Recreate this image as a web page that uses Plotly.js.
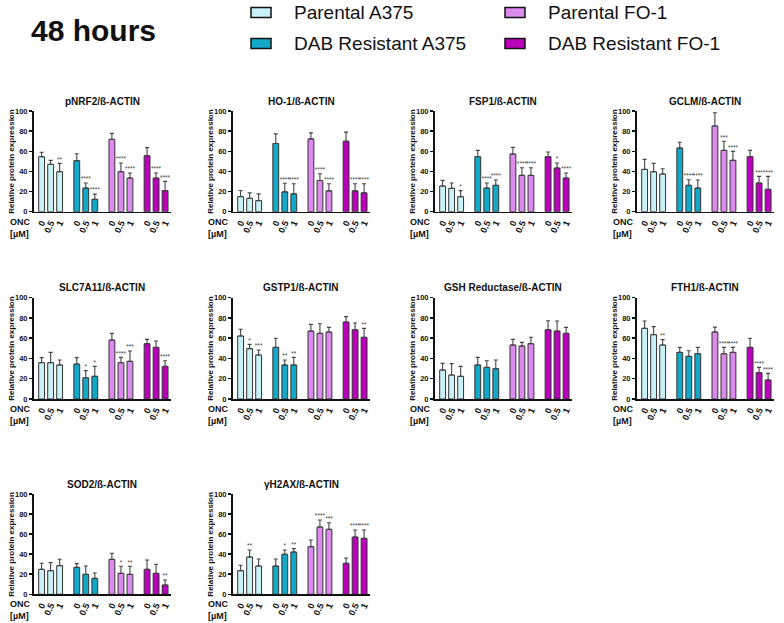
<!DOCTYPE html>
<html>
<head>
<meta charset="utf-8">
<script src="https://cdn.plot.ly/plotly-3.0.1.min.js"></script>
<style>
  html, body { margin: 0; padding: 0; background: #ffffff; }
  #chart { width: 784px; height: 623px; }
</style>
</head>
<body>
<div id="chart"></div>
<script>
// Cell lines (bar groups) and ONC doses (bars within a group)
const groups = ['Parental A375', 'DAB Resistant A375', 'Parental FO-1', 'DAB Resistant FO-1'];
const doses = ['0', '0.5', '1'];

// Relative protein expression: mean, SD (upper error bar) and significance per bar
const pnrf2Mean = [54.6, 47.0, 39.7, 50.7, 23.5, 12.3, 71.9, 39.7, 33.4, 55.6, 33.4, 20.9];
const pnrf2Sd   = [4.4, 4.0, 8.3, 6.9, 5.0, 5.2, 5.9, 8.6, 5.0, 8.0, 5.0, 9.2];
const pnrf2Sig  = ['', '', '**', '', '****', '****', '', '****', '****', '', '****', '****'];

const ho1Mean = [15.0, 13.3, 11.0, 67.7, 19.7, 17.7, 72.3, 31.0, 20.7, 70.0, 20.7, 18.7];
const ho1Sd   = [6.0, 5.4, 6.7, 9.6, 8.6, 10.0, 6.0, 6.7, 7.0, 9.0, 7.0, 9.0];
const ho1Sig  = ['', '', '', '', '****', '****', '', '****', '****', '', '****', '****'];

const fsp1Mean = [25.5, 23.2, 14.9, 54.6, 23.5, 26.2, 57.3, 36.1, 36.1, 54.6, 43.4, 33.4];
const fsp1Sd   = [5.6, 5.3, 6.0, 6.3, 5.0, 5.3, 6.6, 7.6, 7.6, 4.7, 4.9, 5.0];
const fsp1Sig  = ['', '', '*', '', '****', '****', '', '****', '****', '', '*', '****'];

const gclmMean = [42.0, 39.7, 37.4, 63.2, 26.2, 23.5, 85.1, 60.9, 51.0, 54.6, 28.5, 22.2];
const gclmSd   = [10.0, 8.3, 5.3, 5.7, 5.6, 8.0, 13.2, 9.0, 8.9, 6.3, 6.6, 12.9];
const gclmSig  = ['', '', '', '', '****', '****', '', '***', '****', '', '***', '****'];

const slc7a11Mean = [35.9, 35.9, 33.6, 34.5, 21.0, 22.4, 58.2, 35.9, 37.2, 54.6, 51.0, 32.2];
const slc7a11Sd   = [4.9, 10.1, 4.9, 6.3, 7.0, 9.8, 6.6, 5.2, 10.2, 4.3, 6.2, 5.6];
const slc7a11Sig  = ['', '', '', '', '*', '*', '', '****', '***', '', '', '****'];

const gstp1Mean = [62.2, 49.7, 43.4, 51.0, 33.6, 33.6, 67.1, 64.8, 66.1, 76.0, 68.4, 60.9];
const gstp1Sd   = [6.6, 4.2, 5.0, 8.9, 4.9, 7.5, 6.6, 9.5, 4.6, 5.3, 6.6, 8.8];
const gstp1Sig  = ['', '*', '***', '', '**', '**', '', '', '', '', '', '**'];

const gshMean = [28.6, 23.7, 22.4, 33.6, 31.2, 29.9, 53.3, 52.3, 54.6, 68.4, 67.1, 64.8];
const gshSd   = [6.6, 11.2, 9.8, 7.5, 6.6, 8.6, 5.6, 3.6, 6.3, 8.9, 9.9, 5.9];
const gshSig  = ['', '', '', '', '', '', '', '', '', '', '', ''];

const fth1Mean = [69.7, 63.5, 53.3, 46.0, 42.1, 44.7, 66.1, 44.7, 46.0, 51.0, 26.0, 18.8];
const fth1Sd   = [7.3, 7.9, 5.3, 5.0, 5.6, 6.3, 4.9, 6.3, 5.0, 8.9, 5.2, 6.5];
const fth1Sig  = ['', '', '**', '', '', '', '', '****', '****', '', '****', '****'];

const sod2Mean = [24.9, 23.6, 28.6, 26.9, 19.9, 15.9, 34.9, 20.9, 19.9, 24.9, 20.9, 9.3];
const sod2Sd   = [6.0, 8.0, 6.3, 3.7, 8.3, 5.4, 6.0, 7.0, 8.0, 9.3, 9.0, 5.0];
const sod2Sig  = ['', '', '', '', '', '', '', '*', '**', '', '', '**'];

const h2axMean = [23.6, 37.2, 28.2, 28.2, 39.9, 42.2, 47.5, 67.1, 64.8, 30.9, 57.1, 55.8];
const h2axSd   = [5.3, 7.0, 7.0, 7.0, 4.3, 3.3, 6.7, 7.0, 6.6, 5.3, 7.0, 8.3];
const h2axSig  = ['', '**', '', '', '*', '**', '', '****', '***', '', '****', '****'];

const panelTitles = ['pNRF2/ß-ACTIN', 'HO-1/ß-ACTIN', 'FSP1/ß-ACTIN', 'GCLM/ß-ACTIN',
                     'SLC7A11/ß-ACTIN', 'GSTP1/ß-ACTIN', 'GSH Reductase/ß-ACTIN', 'FTH1/ß-ACTIN',
                     'SOD2/ß-ACTIN', 'γH2AX/ß-ACTIN'];
const panelMeans = [pnrf2Mean, ho1Mean, fsp1Mean, gclmMean, slc7a11Mean, gstp1Mean, gshMean, fth1Mean, sod2Mean, h2axMean];
const panelSds   = [pnrf2Sd, ho1Sd, fsp1Sd, gclmSd, slc7a11Sd, gstp1Sd, gshSd, fth1Sd, sod2Sd, h2axSd];
const panelSigs  = [pnrf2Sig, ho1Sig, fsp1Sig, gclmSig, slc7a11Sig, gstp1Sig, gshSig, fth1Sig, sod2Sig, h2axSig];

// ---- styling and geometry ----
const groupColors = ['#c9f1f8', '#12a8c8', '#dd8aef', '#bb00bb'];
const FONT = 'Liberation Sans, Arial, sans-serif';
const W = 784, H = 623;
const colLeft = [33.5, 232.5, 434.5, 636.5];   // px, left edge of each column's plot area
const plotW = 137;
const rowBottom = [211.7, 399, 594.3];          // px, y = 0 line of each row
const rowTop = [111, 297.7, 494];               // px, y = 100 line of each row
const groupStep = 3.9;                          // spacing between cell-line groups (in bar units)
const barWidth = 0.65;

const px = v => v / W;
const py = v => 1 - v / H;

// x position of every bar: group index * step + dose index
const xPos = [];
groups.forEach((g, gi) => doses.forEach((d, di) => xPos.push(gi * groupStep + di)));
const xLabels = [];
groups.forEach(() => doses.forEach(d => xLabels.push(d)));

const traces = [];
const layout = {
  width: W, height: H,
  margin: {l: 0, r: 0, t: 0, b: 0},
  paper_bgcolor: '#ffffff',
  plot_bgcolor: 'rgba(0,0,0,0)',
  showlegend: false,
  barmode: 'overlay',
  font: {family: FONT, color: '#111111'},
  annotations: [],
  shapes: []
};

panelTitles.forEach((title, i) => {
  const row = Math.floor(i / 4), col = i % 4;
  const n = i + 1;
  const xa = 'x' + (n === 1 ? '' : n), ya = 'y' + (n === 1 ? '' : n);
  const mean = panelMeans[i], sd = panelSds[i], sig = panelSigs[i];

  groups.forEach((g, gi) => {
    const sl = [gi * 3, gi * 3 + 3];
    traces.push({
      type: 'bar', name: g, xaxis: xa, yaxis: ya,
      x: xPos.slice(...sl), y: mean.slice(...sl),
      width: barWidth,
      marker: {color: groupColors[gi], line: {color: '#333333', width: 1}},
      error_y: {type: 'data', symmetric: false, array: sd.slice(...sl),
                arrayminus: [0, 0, 0], color: '#444444', thickness: 1.1, width: 2},
      hoverinfo: 'skip'
    });
  });

  // significance marks sit on top of the error bars
  traces.push({
    type: 'scatter', mode: 'text', xaxis: xa, yaxis: ya,
    x: xPos, y: mean.map((m, k) => m + sd[k]), text: sig,
    textposition: 'top center', cliponaxis: false,
    textfont: {family: FONT, size: 6.5, color: '#444444'},
    hoverinfo: 'skip'
  });

  const x0 = colLeft[col], yb = rowBottom[row], yt = rowTop[row];
  layout['xaxis' + (n === 1 ? '' : n)] = {
    domain: [px(x0), px(x0 + plotW)], anchor: ya,
    range: [-0.9, 14.3], fixedrange: true,
    showline: true, linecolor: '#111111', linewidth: 1.5,
    showgrid: false, zeroline: false, ticks: '',
    tickmode: 'array', tickvals: xPos, ticktext: xLabels,
    tickangle: -65, ticklabelstandoff: 1,
    tickfont: {family: FONT, size: 9, weight: 'bold', color: '#111111'}
  };
  layout['yaxis' + (n === 1 ? '' : n)] = {
    domain: [py(yb), py(yt)], anchor: xa,
    range: [0, 100], fixedrange: true,
    showline: true, linecolor: '#111111', linewidth: 1.5,
    showgrid: false, zeroline: false,
    ticks: 'outside', ticklen: 3, tickwidth: 1.5, tickcolor: '#111111',
    tickmode: 'array', tickvals: [0, 20, 40, 60, 80, 100],
    tickfont: {family: FONT, size: 7.5, weight: 'bold', color: '#111111'}
  };

  // panel title
  layout.annotations.push({
    xref: 'paper', yref: 'paper', x: px(x0 + plotW / 2), y: py(yt - 10),
    xanchor: 'center', yanchor: 'middle', showarrow: false,
    text: '<b>' + title + '</b>', font: {family: FONT, size: 10, color: '#111111'}
  });
  // y-axis title
  layout.annotations.push({
    xref: 'paper', yref: 'paper', x: px(x0 - 22), y: py((yb + yt) / 2),
    xanchor: 'center', yanchor: 'middle', showarrow: false, textangle: -90,
    text: '<b>Relative protein expression</b>', font: {family: FONT, size: 8, color: '#111111'}
  });
  // dose label
  layout.annotations.push({
    xref: 'paper', yref: 'paper', x: px(x0 - 1), y: py(yb + 16),
    xanchor: 'right', yanchor: 'middle', showarrow: false, align: 'left',
    text: '<b>ONC<br>[µM]</b>', font: {family: FONT, size: 9, color: '#111111'}
  });
});

// header
layout.annotations.push({
  xref: 'paper', yref: 'paper', x: px(29), y: py(31),
  xanchor: 'left', yanchor: 'middle', showarrow: false,
  text: '<b>48 hours</b>', font: {family: FONT, size: 30, color: '#111111'}
});

// legend: parental lines on the first row, resistant lines on the second
const legendOrder = [0, 2, 1, 3];   // Parental A375, Parental FO-1, DAB A375, DAB FO-1
const legBoxX = [251, 505], legTextX = [292, 546], legRowY = [12.5, 43.5];
legendOrder.forEach((gi, k) => {
  const r = Math.floor(k / 2), c = k % 2;
  layout.shapes.push({
    type: 'rect', xref: 'paper', yref: 'paper',
    x0: px(legBoxX[c]), x1: px(legBoxX[c] + 20),
    y0: py(legRowY[r] - 5), y1: py(legRowY[r] + 5),
    fillcolor: groupColors[gi], line: {color: '#111111', width: 1.5}
  });
  layout.annotations.push({
    xref: 'paper', yref: 'paper', x: px(legTextX[c]), y: py(legRowY[r]),
    xanchor: 'left', yanchor: 'middle', showarrow: false,
    text: groups[gi], font: {family: FONT, size: 19, color: '#111111'}
  });
});

Plotly.newPlot('chart', traces, layout, {staticPlot: true, displayModeBar: false});
</script>
</body>
</html>
